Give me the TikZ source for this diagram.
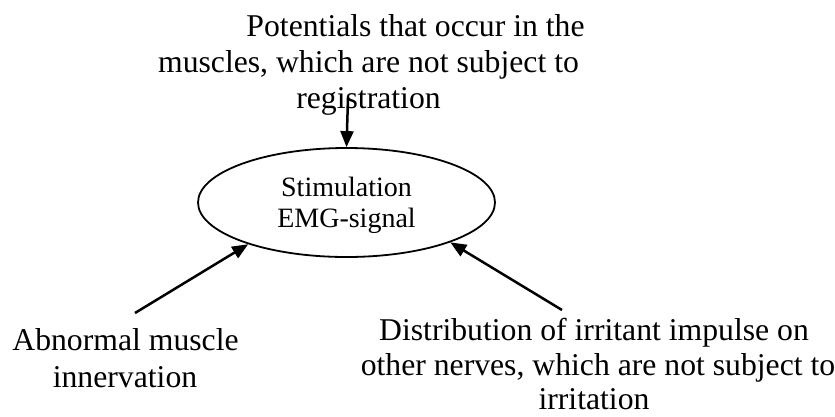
\documentclass[tikz,border=0pt]{standalone}
\usepackage{fontspec}
\setmainfont{Liberation Serif}
\usetikzlibrary{shapes.geometric,arrows.meta}
\begin{document}
\begin{tikzpicture}[x=1pt,y=-1pt,
  lbl/.style={inner sep=0pt,anchor=base,font=\fontsize{31.7}{36.5}\selectfont},
  inlbl/.style={inner sep=0pt,anchor=base,font=\fontsize{28}{32}\selectfont},
  conn/.style={line width=2.5pt,-{Triangle[length=16pt,width=13pt]}}]
\useasboundingbox (0,0) rectangle (835,416);
\node[lbl] (t1) at (415.5,36) {Potentials that occur in the};
\node[lbl] (t2) at (368.5,72) {muscles, which are not subject to};
\node[lbl] (t3) at (368.5,108) {registration};
\node[ellipse,draw,line width=1.8pt,minimum width=297pt,minimum height=109pt,inner sep=0pt] (emg) at (346.5,202.5) {};
\node[inlbl] (s1) at (346.5,196) {Stimulation};
\node[inlbl] (s2) at (346.5,227) {EMG-signal};
\node[lbl] (l1) at (125.5,350) {Abnormal muscle};
\node[lbl] (l2) at (125,387) {innervation};
\node[lbl] (r1) at (594,340) {Distribution of irritant impulse on};
\node[lbl] (r2) at (598,375) {other nerves, which are not subject to};
\node[lbl] (r3) at (594,409) {irritation};
\coordinate (ta) at (348,98);
\coordinate (la) at (135,313);
\coordinate (ra) at (562,310);
\draw[conn] (ta) -- (emg.north);
\draw[conn] (la) -- (emg.-157);
\draw[conn] (ra) -- (emg.-21);
\end{tikzpicture}
\end{document}
